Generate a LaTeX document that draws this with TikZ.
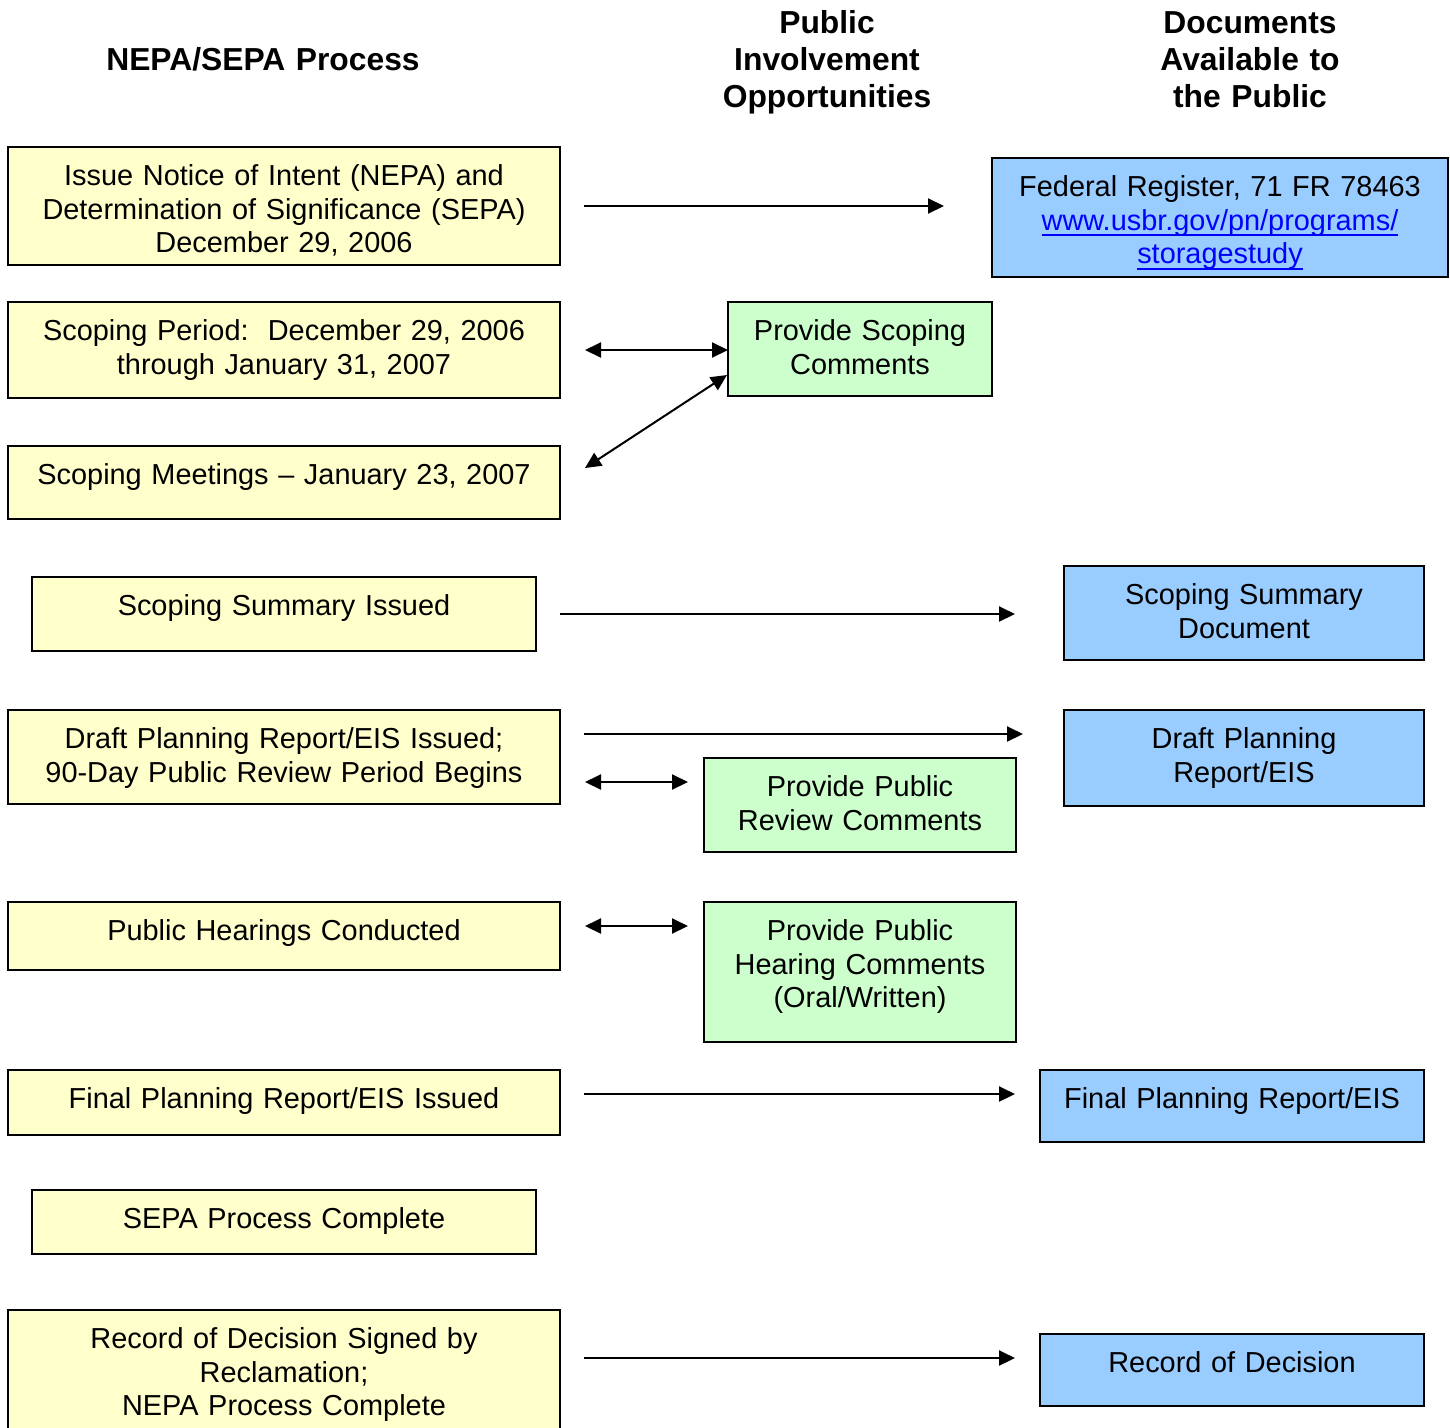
\documentclass[tikz,border=0pt]{standalone}
\usepackage{fontspec}
\setmainfont{Liberation Sans}
\usetikzlibrary{arrows.meta,calc}
\definecolor{yel}{HTML}{FFFFCC}
\definecolor{grn}{HTML}{CCFFCC}
\definecolor{blu}{HTML}{99CCFF}
\definecolor{lnkc}{HTML}{0000FF}
\newcommand\bodyfont{\fontsize{28.9}{33.7}\selectfont}
\newcommand\hdrfont{\fontsize{31.8}{36.9}\selectfont\bfseries}
\newcommand\lnk[1]{\setbox0\hbox{#1}\leavevmode\rlap{\rule[-6pt]{\wd0}{2pt}}\box0}
\begin{document}
\begin{tikzpicture}[x=1pt,y=-1pt,
  bx/.style={draw, line width=2pt, inner sep=0pt, outer sep=0pt, align=center, anchor=north west, font=\bodyfont, text height=38.3pt},
  pb/.style={bx, fill=yel},
  gb/.style={bx, fill=grn},
  db/.style={bx, fill=blu},
  hdr/.style={font=\hdrfont, align=center, inner sep=0pt, anchor=base, text width=400pt},
  arr/.style={line width=2pt, -{Triangle[length=16pt,width=15pt]}},
  darr/.style={line width=2pt, {Triangle[length=16pt,width=15pt]}-{Triangle[length=16pt,width=15pt]}}]
\useasboundingbox[fill=white] (0,0) rectangle (1450,1427);

% headers
\node[hdr] (h1) at (263,70.4) {NEPA/SEPA Process};
\node[hdr] (h2) at (827,33.4) {Public\\Involvement\\Opportunities};
\node[hdr] (h3) at (1250,33.4) {Documents\\Available to\\the Public};

% process boxes
\node[pb, text width=552pt, text depth=79.7pt] (n1) at (8,147) {Issue Notice of Intent (NEPA) and\\Determination of Significance (SEPA)\\December 29, 2006};
\node[pb, text width=552pt, text depth=57.7pt] (n2) at (8,302) {Scoping Period:\ \ December 29, 2006\\through January 31, 2007};
\node[pb, text width=552pt, text depth=34.7pt] (n3) at (8,446) {Scoping Meetings – January 23, 2007};
\node[pb, text width=504pt, text depth=35.7pt] (n4) at (32,577) {Scoping Summary Issued};
\node[pb, text width=552pt, text depth=55.7pt] (n5) at (8,710) {Draft Planning Report/EIS Issued;\\90-Day Public Review Period Begins};
\node[pb, text width=552pt, text depth=29.7pt] (n6) at (8,902) {Public Hearings Conducted};
\node[pb, text width=552pt, text depth=26.7pt] (n7) at (8,1070) {Final Planning Report/EIS Issued};
\node[pb, text width=504pt, text depth=25.7pt] (n8) at (32,1190) {SEPA Process Complete};
\node[pb, text width=552pt, text depth=96.7pt] (n9) at (8,1310) {Record of Decision Signed by\\Reclamation;\\NEPA Process Complete};

% public involvement boxes
\node[gb, text width=264pt, text depth=55.7pt] (g1) at (728,302) {Provide Scoping\\Comments};
\node[gb, text width=312pt, text depth=55.7pt] (g2) at (704,758) {Provide Public\\Review Comments};
\node[gb, text width=312pt, text depth=101.7pt] (g3) at (704,902) {Provide Public\\Hearing Comments\\(Oral/Written)};

% document boxes
\node[db, text width=456pt, text depth=80.7pt] (d1) at (992,158) {Federal Register, 71 FR 78463\\{\color{lnkc}\lnk{www.usbr.gov/pn/programs/}}\\{\color{lnkc}\lnk{storagestudy}}};
\node[db, text width=360pt, text depth=55.7pt] (d2) at (1064,566) {Scoping Summary\\Document};
\node[db, text width=360pt, text depth=57.7pt] (d3) at (1064,710) {Draft Planning\\Report/EIS};
\node[db, text width=384pt, text depth=33.7pt] (d4) at (1040,1070) {Final Planning Report/EIS};
\node[db, text width=384pt, text depth=33.7pt] (d5) at (1040,1334) {Record of Decision};

% connectors
\draw[arr] ($(n1.north east)+(24,59)$) -- ($(d1.north west)+(-48,48)$);
\draw[darr] ($(n2.north east)+(25,48)$) -- ($(g1.north west)+(0,48)$);
\draw[darr] ($(n3.north east)+(25,22)$) -- ($(g1.north west)+(-1,73)$);
\draw[arr] ($(n4.north east)+(24,37)$) -- ($(d2.north west)+(-49,48)$);
\draw[arr] ($(n5.north east)+(24,24)$) -- ($(d3.north west)+(-41,24)$);
\draw[darr] ($(n5.north east)+(25,72)$) -- ($(g2.north west)+(-16,24)$);
\draw[darr] ($(n6.north east)+(25,24)$) -- ($(g3.north west)+(-16,24)$);
\draw[arr] ($(n7.north east)+(24,24)$) -- ($(d4.north west)+(-25,24)$);
\draw[arr] ($(n9.north east)+(24,48)$) -- ($(d5.north west)+(-25,24)$);
\end{tikzpicture}
\end{document}
